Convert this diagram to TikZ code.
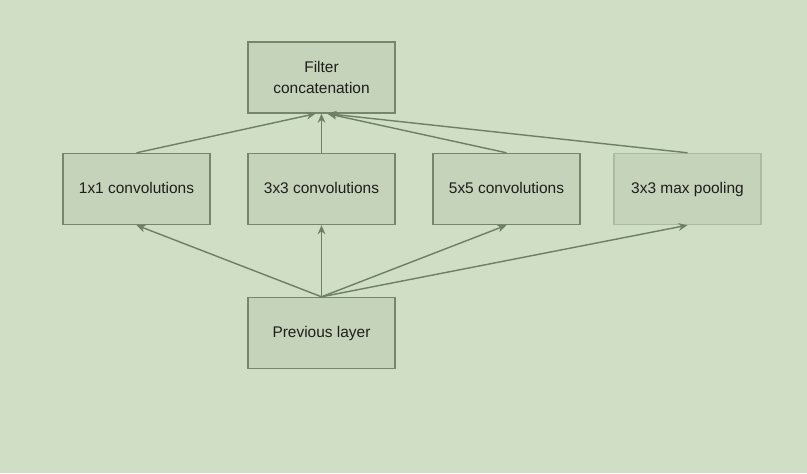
\documentclass[tikz,border=0pt]{standalone}
\usepackage{fontspec}
\setmainfont{Liberation Sans}
\usetikzlibrary{arrows.meta}
\definecolor{backdrop}{HTML}{CFDEC4}
\definecolor{boxfill}{HTML}{C4D3B9}
\definecolor{boxline}{HTML}{76866E}
\definecolor{poolline}{HTML}{A9BBA0}
\definecolor{flow}{HTML}{6E7F67}
\definecolor{ink}{HTML}{1E1E1E}

\begin{document}
\begin{tikzpicture}[x=1cm,y=1cm,
  layer/.style={draw=boxline,fill=boxfill,line width=1pt,minimum width=3.675cm,
    minimum height=1.775cm,inner sep=0pt,align=center,text=ink,
    font=\fontsize{11}{14.5}\selectfont},
  oneline/.style={layer,text height=1.6ex,text depth=0.45ex},
  feed/.style={draw=flow,line width=1pt,-{Stealth[length=6.5pt,width=5.5pt]}}]
  \fill[backdrop] (0,0) rectangle (20.175,11.825);
  \path[use as bounding box] (0,0) rectangle (20.175,11.825);

  % Output of the module.
  \node[layer] (concat) at (8.0375,9.8875) {Filter\\concatenation};

  % Four parallel branches.
  \node[oneline] (conv1) at (3.4125,7.1) {1x1 convolutions};
  \node[oneline] (conv3) at (8.0375,7.1) {3x3 convolutions};
  \node[oneline] (conv5) at (12.6625,7.1) {5x5 convolutions};
  \node[oneline,draw=poolline] (pool) at (17.1875,7.1) {3x3 max pooling};

  % Input of the module.
  \node[oneline] (prev) at (8.0375,3.5) {Previous layer};

  \foreach \br in {conv1,conv3,conv5,pool}{
    \draw[feed] (prev.north) -- (\br.south);
  }
  \draw[feed] (conv1.north) -- ([xshift=-0.15cm]concat.south);
  \draw[feed] (conv3.north) -- (concat.south);
  \draw[feed] (conv5.north) -- ([xshift=0.15cm]concat.south);
  \draw[feed] (pool.north) -- ([xshift=0.15cm]concat.south);
\end{tikzpicture}
\end{document}
